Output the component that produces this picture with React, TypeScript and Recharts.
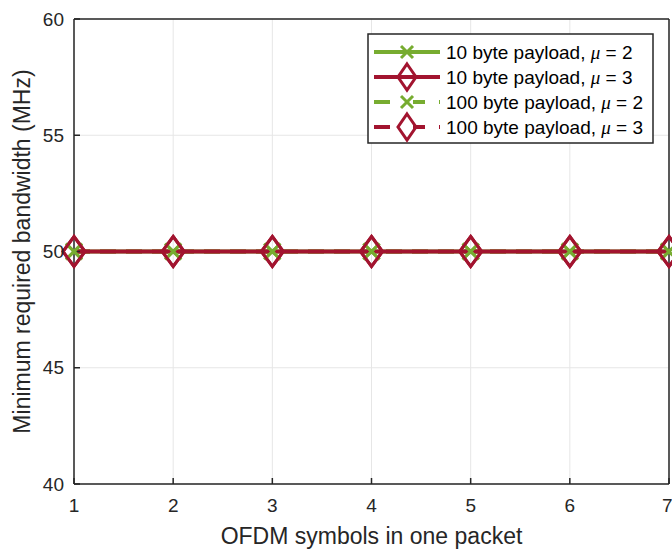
import { LineChart, Line, XAxis, YAxis, CartesianGrid, Label } from 'recharts';

const symbols = [1, 2, 3, 4, 5, 6, 7];
const bw10Mu2 = [50, 50, 50, 50, 50, 50, 50];
const bw10Mu3 = [50, 50, 50, 50, 50, 50, 50];
const bw100Mu2 = [50, 50, 50, 50, 50, 50, 50];
const bw100Mu3 = [50, 50, 50, 50, 50, 50, 50];
const xTicks = [1, 2, 3, 4, 5, 6, 7];
const yTicks = [40, 45, 50, 55, 60];

const GREEN = '#77AC30';
const RED = '#A2142F';
const AXIS = '#262626';
const FONT = '"Liberation Sans", Arial, Helvetica, sans-serif';

const series = [
  { key: 'b10mu2', bytes: '10', mu: '2', color: GREEN, dashed: false, marker: 'x' },
  { key: 'b10mu3', bytes: '10', mu: '3', color: RED, dashed: false, marker: 'diamond' },
  { key: 'b100mu2', bytes: '100', mu: '2', color: GREEN, dashed: true, marker: 'x' },
  { key: 'b100mu3', bytes: '100', mu: '3', color: RED, dashed: true, marker: 'diamond' },
];

const data = symbols.map((s, i) => ({
  symbols: s,
  b10mu2: bw10Mu2[i],
  b10mu3: bw10Mu3[i],
  b100mu2: bw100Mu2[i],
  b100mu3: bw100Mu3[i],
}));

function markerShape(kind: string, cx: number, cy: number, color: string, k: string, small?: boolean) {
  if (kind === 'x') {
    const h = small ? 6 : 8;
    return (
      <g key={k}>
        <line x1={cx - h} y1={cy - h} x2={cx + h} y2={cy + h} stroke={color} strokeWidth={3} />
        <line x1={cx - h} y1={cy + h} x2={cx + h} y2={cy - h} stroke={color} strokeWidth={3} />
      </g>
    );
  }
  const w = small ? 9 : 11;
  const h = small ? 13 : 15;
  return (
    <path
      key={k}
      d={`M${cx},${cy - h}L${cx + w},${cy}L${cx},${cy + h}L${cx - w},${cy}Z`}
      fill="none"
      stroke={color}
      strokeWidth={3}
    />
  );
}

function Legend() {
  return (
    <svg
      width={288}
      height={112}
      style={{ position: 'absolute', left: 367, top: 33 }}
    >
      <rect x={1} y={1} width={285} height={109} fill="#fff" stroke={AXIS} strokeWidth={1.5} />
      {series.map((s, i) => {
        const y = 19 + i * 25;
        return (
          <g key={s.key}>
            <line
              x1={7}
              x2={73}
              y1={y}
              y2={y}
              stroke={s.color}
              strokeWidth={4}
              strokeDasharray={s.dashed ? '16 23 12 14 2 100' : undefined}
            />
            {markerShape(s.marker, 40, y, s.color, 'm' + i, true)}
            <text x={79} y={y} dominantBaseline="central" fontSize={19} fill="#000" fontFamily={FONT}>
              {s.bytes} byte payload,{' '}
              <tspan fontStyle="italic" fontFamily='"Liberation Serif", serif'>μ</tspan> = {s.mu}
            </text>
          </g>
        );
      })}
    </svg>
  );
}

export default function App() {
  return (
    <div
      style={{
        position: 'absolute',
        left: 0,
        top: 0,
        width: 672,
        height: 551,
        background: '#fff',
        fontFamily: FONT,
      }}
    >
      <LineChart width={672} height={551} data={data} margin={{ top: 18, right: 2, bottom: 7, left: 14 }}>
        <CartesianGrid stroke="#e6e6e6" strokeWidth={1} />
        <XAxis
          dataKey="symbols"
          type="number"
          domain={[1, 7]}
          ticks={xTicks}
          height={60}
          stroke={AXIS}
          strokeWidth={1.5}
          tickSize={-6}
          tickMargin={21}
          tick={{ fill: AXIS, fontSize: 19, fontFamily: FONT }}
          allowDecimals={false}
        >
          <Label
            content={(props: any) => {
              const vb = props.viewBox || { x: 74, y: 484, width: 595 };
              return (
                <text
                  x={vb.x + vb.width / 2}
                  y={vb.y + 60}
                  textAnchor="middle"
                  fill={AXIS}
                  fontSize={23}
                  fontFamily={FONT}
                >
                  OFDM symbols in one packet
                </text>
              );
            }}
          />
        </XAxis>
        <XAxis
          xAxisId="top"
          orientation="top"
          type="number"
          domain={[1, 7]}
          ticks={xTicks}
          height={1}
          stroke={AXIS}
          strokeWidth={1.5}
          tickSize={-6}
          tick={false}
        />
        <YAxis
          type="number"
          domain={[40, 60]}
          ticks={yTicks}
          width={60}
          stroke={AXIS}
          strokeWidth={1.5}
          tickSize={-6}
          tickMargin={16}
          tick={{ fill: AXIS, fontSize: 19, fontFamily: FONT }}
        >
          <Label
            content={(props: any) => {
              const vb = props.viewBox || { x: 14, y: 19, width: 60, height: 465 };
              const cx = vb.x + vb.width - 52;
              const cy = vb.y + vb.height / 2;
              return (
                <text
                  x={cx}
                  y={cy}
                  transform={`rotate(-90, ${cx}, ${cy})`}
                  textAnchor="middle"
                  dominantBaseline="central"
                  fill={AXIS}
                  fontSize={23}
                  fontFamily={FONT}
                >
                  Minimum required bandwidth (MHz)
                </text>
              );
            }}
          />
        </YAxis>
        <YAxis
          yAxisId="right"
          orientation="right"
          type="number"
          domain={[40, 60]}
          ticks={yTicks}
          width={1}
          stroke={AXIS}
          strokeWidth={1.5}
          tickSize={-6}
          tick={false}
        />
        {series.map((s) => (
          <Line
            key={s.key}
            dataKey={s.key}
            stroke={s.color}
            strokeWidth={4}
            strokeDasharray={s.dashed ? '16 10' : undefined}
            isAnimationActive={false}
            dot={(p: any) => markerShape(s.marker, p.cx, p.cy, s.color, s.key + p.index)}
            activeDot={false}
          />
        ))}
      </LineChart>
      <Legend />
    </div>
  );
}
